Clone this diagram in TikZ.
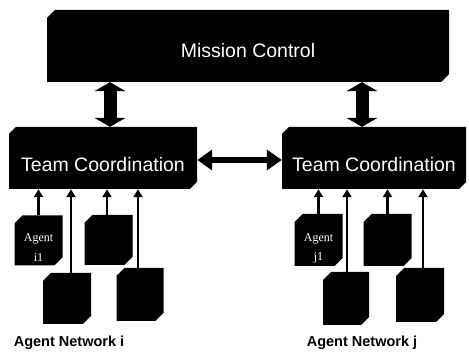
\documentclass[tikz,border=0pt]{standalone}
\usepackage{fontspec}
\setmainfont{Liberation Sans}
\newfontfamily\agentserif{Liberation Serif}
\usetikzlibrary{arrows.meta}
\newcommand{\agenttext}[1]{\smash{\raisebox{-21pt}{\shortstack{Agent\\[6pt]#1}}}}
\tikzset{
  chbox/.style={rectangle, inner sep=0pt, text=white, path picture={
    \fill[black] ([xshift=#1]path picture bounding box.north west)
      -- (path picture bounding box.north east)
      -- ([yshift=#1]path picture bounding box.south east)
      -- ([xshift=-#1]path picture bounding box.south east)
      -- (path picture bounding box.south west)
      -- ([yshift=-#1]path picture bounding box.north west) -- cycle;}},
  chbox/.default=8pt,
  mcbox/.style={chbox=8pt, minimum width=402pt, minimum height=72pt,
    font=\fontsize{19.5}{20}\selectfont, text height=24pt, text depth=0pt},
  tcbox/.style={chbox=7pt, minimum height=62pt,
    font=\fontsize{19.5}{20}\selectfont, text height=28pt, text depth=0pt},
  agentbox/.style={chbox=8pt, minimum width=48pt, minimum height=50pt,
    font=\agentserif\fontsize{12}{14}\selectfont},
  netlabel/.style={inner sep=0pt, font=\bfseries\fontsize{14.5}{15}\selectfont},
  bigarrow/.style={line width=13pt, {Triangle[width=31pt,length=9pt]}-{Triangle[width=31pt,length=9pt]}},
  midarrow/.style={line width=5.5pt, {Triangle[width=20pt,length=15pt]}-{Triangle[width=20pt,length=15pt]}},
  agentarrow/.style={line width=2.4pt, -{Triangle[width=9pt,length=8pt]}},
}
\begin{document}
\begin{tikzpicture}[x=1pt,y=-1pt]
\useasboundingbox (0,0) rectangle (469,355);

% main boxes
\node[mcbox] (mc) at (248,46) {Mission Control};
\node[tcbox, minimum width=188pt] (tcL) at (103,158) {Team Coordination};
\node[tcbox, minimum width=184pt] (tcR) at (374,158) {Team Coordination};

% agents, network i
\node[agentbox] (a1) at (38.5,240.5) {\agenttext{i1}};
\node[agentbox] (a2) at (108.5,240) {};
\node[agentbox, minimum height=51pt] (a3) at (67,298.5) {};
\node[agentbox, minimum width=47pt, minimum height=53pt] (a4) at (140,294.5) {};

% agents, network j
\node[agentbox, minimum height=52pt] (b1) at (318.5,240) {\agenttext{j1}};
\node[agentbox, minimum height=52pt] (b2) at (387.5,240) {};
\node[agentbox, minimum width=46pt, minimum height=53pt] (b3) at (346,298.5) {};
\node[agentbox, minimum height=54pt] (b4) at (420,295) {};

% network labels
\node[netlabel] (li) at (69,343) {Agent Network i};
\node[netlabel] (lj) at (362,343) {Agent Network j};

% thick arrows mission control <-> team coordination
\draw[bigarrow] ([xshift=7pt]tcL.north |- mc.south) -- ([xshift=7pt]tcL.north);
\draw[bigarrow] ([xshift=-12pt]tcR.north |- mc.south) -- ([xshift=-12pt]tcR.north);

% team coordination <-> team coordination
\draw[midarrow] ([yshift=-2pt]tcL.east) -- ([yshift=-2pt]tcL.east -| tcR.west);

% agent arrows, network i
\draw[agentarrow] (a1.north) -- (a1.north |- tcL.south);
\draw[agentarrow] ([xshift=-1.5pt]a2.north) -- ([xshift=-1.5pt]a2.north |- tcL.south);
\draw[agentarrow] ([xshift=4pt]a3.north) -- ([xshift=4pt]a3.north |- tcL.south);
\draw[agentarrow] ([xshift=-2pt]a4.north) -- ([xshift=-2pt]a4.north |- tcL.south);

% agent arrows, network j
\draw[agentarrow] (b1.north) -- (b1.north |- tcR.south);
\draw[agentarrow] (b2.north) -- (b2.north |- tcR.south);
\draw[agentarrow] ([xshift=1pt]b3.north) -- ([xshift=1pt]b3.north |- tcR.south);
\draw[agentarrow] ([xshift=3pt]b4.north) -- ([xshift=3pt]b4.north |- tcR.south);
\end{tikzpicture}
\end{document}
